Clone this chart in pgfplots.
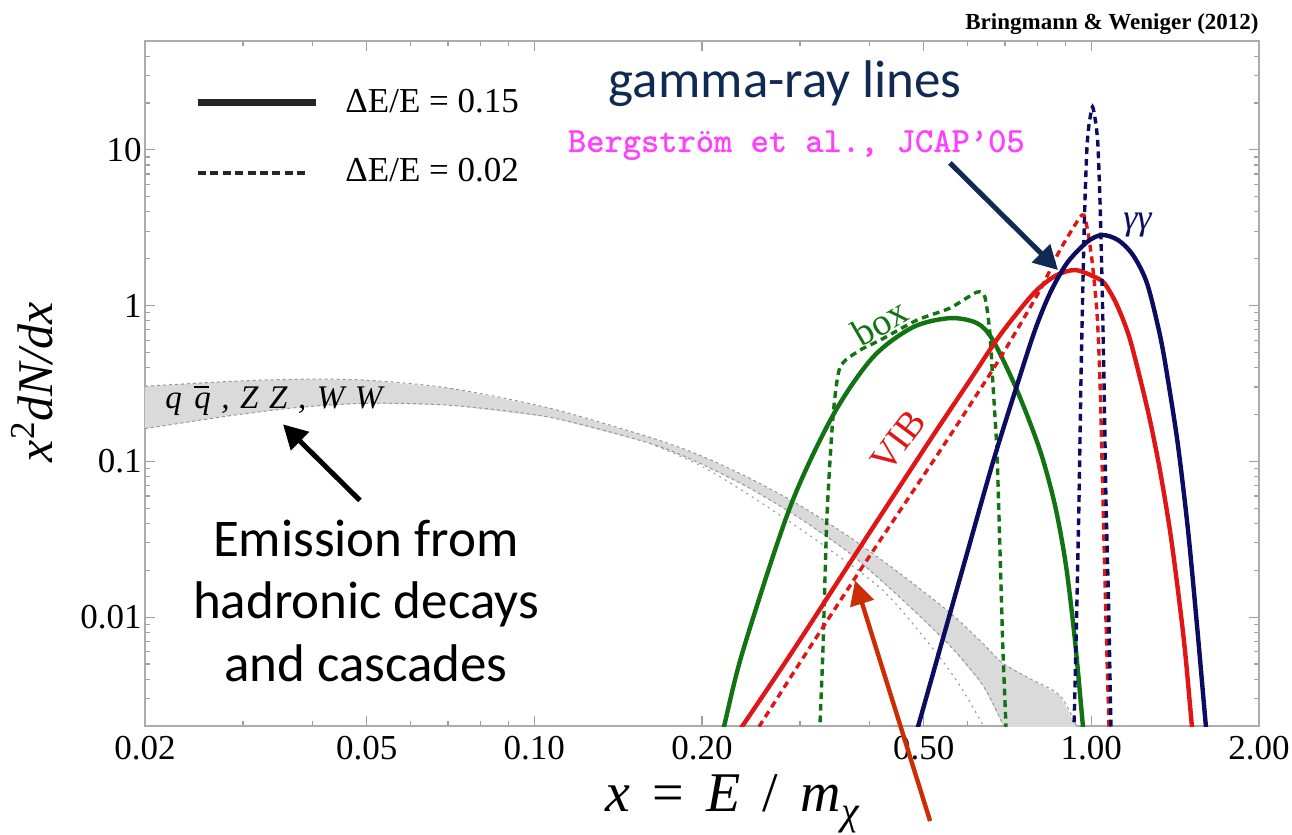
\documentclass[border=0pt]{standalone}
\usepackage{fontspec}
\setmainfont{Liberation Serif}
\newfontfamily\calibri{Carlito}
\newfontfamily\magfont{lmmono10-regular}[Extension=.otf, FakeBold=1.2]
\usepackage{pgfplots}
\pgfplotsset{compat=1.18}
\usetikzlibrary{arrows.meta}

\newcommand\fs[1]{\fontsize{#1}{#1}\selectfont}

\definecolor{cgreen}{RGB}{18,115,18}
\definecolor{cred}{RGB}{224,22,22}
\definecolor{cnavy}{RGB}{12,12,96}
\definecolor{tnavy}{RGB}{16,42,84}
\definecolor{cmag}{RGB}{255,64,255}
\definecolor{carrow}{RGB}{204,45,5}
\definecolor{bandfill}{RGB}{218,218,218}
\definecolor{bandedge}{RGB}{150,150,150}

\pgfplotsset{
  solidc/.style={line width=2.2pt, smooth, tension=0.5},
  dotc/.style={line width=1.7pt, dash pattern=on 3.4pt off 2.4pt, smooth, tension=0.4},
}

\begin{document}
\begin{tikzpicture}
\begin{axis}[
  at={(72.5pt,-363pt)}, anchor=south west,
  width=557pt, height=342.5pt, scale only axis,
  xmode=log, ymode=log,
  xmin=0.02, xmax=2, ymin=0.002, ymax=50,
  xtick={0.02,0.05,0.1,0.2,0.5,1,2},
  xticklabels={0.02,0.05,0.10,0.20,0.50,1.00,2.00},
  minor xtick={0.03,0.04,0.06,0.07,0.08,0.09,0.3,0.4,0.6,0.7,0.8,0.9},
  ytick={0.01,0.1,1,10},
  yticklabels={0.01,0.1,1,10},
  minor ytick={0.003,0.004,0.005,0.006,0.007,0.008,0.009,
               0.02,0.03,0.04,0.05,0.06,0.07,0.08,0.09,
               0.2,0.3,0.4,0.5,0.6,0.7,0.8,0.9,
               2,3,4,5,6,7,8,9,20,30,40},
  tick align=inside,
  major tick length=5pt, minor tick length=2.5pt,
  tick style={gray!75, line width=0.6pt},
  axis line style={gray!65, line width=0.75pt},
  ticklabel style={font=\fs{17.5}},
  xticklabel style={yshift=-1.6pt},
  yticklabel style={xshift=1.8pt},
  clip mode=individual,
]

% hadronic band (q qbar, ZZ, WW)
\addplot[fill=bandfill, draw=none] coordinates {
  (0.0195,0.302) (0.02878,0.3269) (0.03796,0.3367) (0.05007,0.332) (0.07057,0.2947)
  (0.1067,0.2192) (0.1613,0.1426) (0.1984,0.1093) (0.2439,0.0777) (0.2999,0.0521)
  (0.3689,0.0325) (0.4535,0.01905) (0.5572,0.01069) (0.6393,0.00676) (0.6913,0.0051)
  (0.7762,0.00402) (0.8784,0.00313) (0.9464,0.0019) (0.96,0.0015)
  (0.71,0.0015) (0.6998,0.0019) (0.6393,0.00363) (0.5572,0.00656) (0.4535,0.01335)
  (0.3689,0.0256) (0.2999,0.043) (0.2439,0.0671) (0.1984,0.0971) (0.1613,0.1305)
  (0.1067,0.1919) (0.07057,0.2292) (0.05007,0.236) (0.03796,0.2225) (0.02878,0.1976)
  (0.0195,0.160)
} -- cycle;
\addplot[bandedge, line width=0.5pt, dash pattern=on 1.5pt off 1.5pt, smooth] coordinates {
  (0.0195,0.302) (0.02878,0.3269) (0.03796,0.3367) (0.05007,0.332) (0.07057,0.2947)
  (0.1067,0.2192) (0.1613,0.1426) (0.1984,0.1093) (0.2439,0.0777) (0.2999,0.0521)
  (0.3689,0.0325) (0.4535,0.01905) (0.5572,0.01069) (0.6393,0.00676) (0.6913,0.0051)
  (0.7762,0.00402) (0.8784,0.00313) (0.9464,0.0019) (0.96,0.0015)};
\addplot[bandedge, line width=0.5pt, dash pattern=on 1.5pt off 1.5pt, smooth] coordinates {
  (0.0195,0.160) (0.02878,0.1976) (0.03796,0.2225) (0.05007,0.236) (0.07057,0.2292)
  (0.1067,0.1919) (0.1613,0.1305) (0.1984,0.0971) (0.2439,0.0671) (0.2999,0.043)
  (0.3689,0.0256) (0.4535,0.01335) (0.5572,0.00656) (0.6393,0.00363) (0.6998,0.0019)
  (0.71,0.0015)};
\addplot[gray!75, line width=0.6pt, dash pattern=on 1pt off 2.2pt, smooth] coordinates {
  (0.1613,0.1305) (0.1984,0.0942) (0.2439,0.0604) (0.3218,0.031) (0.4226,0.01481)
  (0.5196,0.00627) (0.581,0.00363) (0.6441,0.0019) (0.65,0.0015)};

% box: Delta E/E = 0.15 and 0.02
\addplot[cgreen, solidc] coordinates {
  (0.2143,0.0015) (0.2190,0.00198) (0.2369,0.00609) (0.2877,0.0506)
  (0.3437,0.1976) (0.4055,0.4665) (0.4783,0.727) (0.5572,0.831)
  (0.6232,0.772) (0.6657,0.600) (0.7355,0.2862) (0.8088,0.1177) (0.8606,0.0521)
  (0.9005,0.02144) (0.9347,0.00706) (0.9661,0.00198) (0.9741,0.0015)};
\addplot[cgreen, dotc] coordinates {
  (0.3250,0.0015) (0.3256,0.00198) (0.3297,0.00609) (0.3352,0.0436) (0.3437,0.192)
  (0.3538,0.402) (0.3843,0.517) (0.4175,0.600) (0.4863,0.807) (0.5572,0.964)
  (0.6232,1.221) (0.6441,1.134) (0.6576,0.666) (0.6657,0.3175) (0.6768,0.1177)
  (0.6855,0.0268) (0.694,0.00609) (0.7027,0.00198) (0.704,0.0015)};

% VIB
\addplot[cred, solidc] coordinates {
  (0.2229,0.0015) (0.2359,0.00198) (0.2913,0.00609) (0.3811,0.0268) (0.5088,0.1305)
  (0.6055,0.332) (0.6855,0.646) (0.7857,1.186) (0.8606,1.548) (0.9347,1.692)
  (1.0153,1.525) (1.0581,1.375) (1.1119,1.007) (1.1685,0.6365) (1.2230,0.342)
  (1.2743,0.1835) (1.3281,0.08752) (1.3841,0.036) (1.4308,0.01481) (1.4728,0.00609)
  (1.5159,0.00198) (1.5288,0.0015)};
\addplot[cred, dotc] coordinates {
  (0.2391,0.0015) (0.2531,0.00198) (0.2998,0.0051) (0.3843,0.0199) (0.546,0.1305)
  (0.6855,0.4596) (0.8088,1.258) (0.8784,2.275) (0.962,3.82) (0.9822,3.198)
  (1.0026,1.962) (1.0238,0.895) (1.0363,0.332) (1.0493,0.0561) (1.0624,0.0095)
  (1.0757,0.00198) (1.078,0.0015)};

% gamma gamma line
\addplot[cnavy, solidc] coordinates {
  (0.4766,0.0015) (0.4884,0.00198) (0.5350,0.006271) (0.5932,0.02309) (0.6657,0.09854)
  (0.7355,0.308) (0.7922,0.6958) (0.8430,1.203) (0.9043,1.876) (0.9822,2.561)
  (1.045,2.840) (1.1164,2.637) (1.1877,2.112) (1.2585,1.395) (1.3281,0.646)
  (1.3729,0.332) (1.4308,0.1267) (1.4915,0.036) (1.5480,0.00882) (1.6061,0.00198)
  (1.6198,0.0015)};
\addplot[cnavy, dotc] coordinates {
  (0.929,0.0015) (0.9309,0.00198) (0.9423,0.01277) (0.9502,0.0561) (0.9581,0.332)
  (0.9660,1.46) (0.9741,4.77) (0.9822,10.45) (0.9904,14.48) (1.0048,18.9)
  (1.0195,14.48) (1.0280,10.45) (1.0363,4.77) (1.0450,1.46) (1.0537,0.332)
  (1.0624,0.0561) (1.0735,0.01277) (1.0846,0.00198) (1.087,0.0015)};

% legend
\draw[black!85, line width=3.6pt] (axis cs:0.0249,20.06) -- (axis cs:0.04055,20.06);
\draw[black!85, line width=1.9pt, dash pattern=on 4pt off 2.2pt] (axis cs:0.0249,7.113) -- (axis cs:0.03908,7.113);
\node[anchor=base west, inner sep=0pt, font=\fs{17.5}] at (axis cs:0.04573,17.29) {ΔE/E = 0.15};
\node[anchor=base west, inner sep=0pt, font=\fs{17.5}] at (axis cs:0.04573,6.225) {ΔE/E = 0.02};

% curve labels
\node[cred, rotate=53, inner sep=0pt, font=\fs{19}] at (axis cs:0.4500,0.1345) {VIB};
\node[cgreen, rotate=30, inner sep=0pt, font=\fs{19}] at (axis cs:0.4175,0.7833) {box};
\node[cnavy, inner sep=0pt, font=\fs{18}\itshape] at (axis cs:1.21,3.294) {γγ};
\node[anchor=base west, inner sep=0pt, font=\fs{16.5}\itshape] at (axis cs:0.02172,0.2192)
  {q\hspace{0.38em}\rlap{\raisebox{0.62em}{\rule{0.45em}{0.05em}}}q\hspace{0.32em},\hspace{0.32em}Z\hspace{0.32em}Z\hspace{0.32em},\hspace{0.32em}W\hspace{0.32em}W};

% annotations
\node[anchor=base east, inner sep=0pt, tnavy, font=\fs{26.5}\calibri] at (axis cs:0.586,21.6) {gamma-ray lines};
\node[anchor=base east, inner sep=0pt, cmag, font=\fs{17.4}\magfont] at (axis cs:0.7604,9.71) {Bergström et al., JCAP’05};
\draw[tnavy, line width=2.5pt, -{Triangle[length=12pt,width=12.5pt]}] (axis cs:0.5572,8.249) -- (axis cs:0.8712,1.692);

\node[anchor=base, inner sep=0pt, font=\fs{26.5}\calibri] at (axis cs:0.04986,0.02449) {Emission from};
\node[anchor=base, inner sep=0pt, font=\fs{26.5}\calibri] at (axis cs:0.04986,0.009781) {hadronic decays};
\node[anchor=base, inner sep=0pt, font=\fs{26.5}\calibri] at (axis cs:0.04986,0.003848) {and cascades};
\draw[black, line width=2.5pt, -{Triangle[length=12pt,width=12.5pt]}] (axis cs:0.04864,0.05614) -- (axis cs:0.03538,0.1729);

\draw[carrow, line width=2.2pt, -{Triangle[length=12pt,width=12pt]}] (axis cs:0.5135,0.000491) -- (axis cs:0.3765,0.01717);

% axis labels and credit
\node[anchor=base, inner sep=0pt, font=\fs{28}] at (axis description cs:0.5269,-0.1255)
  {\itshape x\hspace{0.4em}\upshape=\hspace{0.4em}\itshape E\hspace{0.4em}\upshape/\hspace{0.4em}\itshape m\raisebox{-0.22em}{\fs{20}χ}};
\node[rotate=90, inner sep=0pt, font=\fs{25}] at (axis description cs:-0.1014,0.5022)
  {\itshape x\textsuperscript{\upshape 2}dN/dx};
\node[anchor=base east, inner sep=0pt, font=\fs{11.5}\bfseries] at (axis description cs:1.0,1.0175)
  {Bringmann \& Weniger (2012)};
\end{axis}
\pgfresetboundingbox
\path (0,0) rectangle (646pt,-417.5pt);
\end{tikzpicture}
\end{document}
